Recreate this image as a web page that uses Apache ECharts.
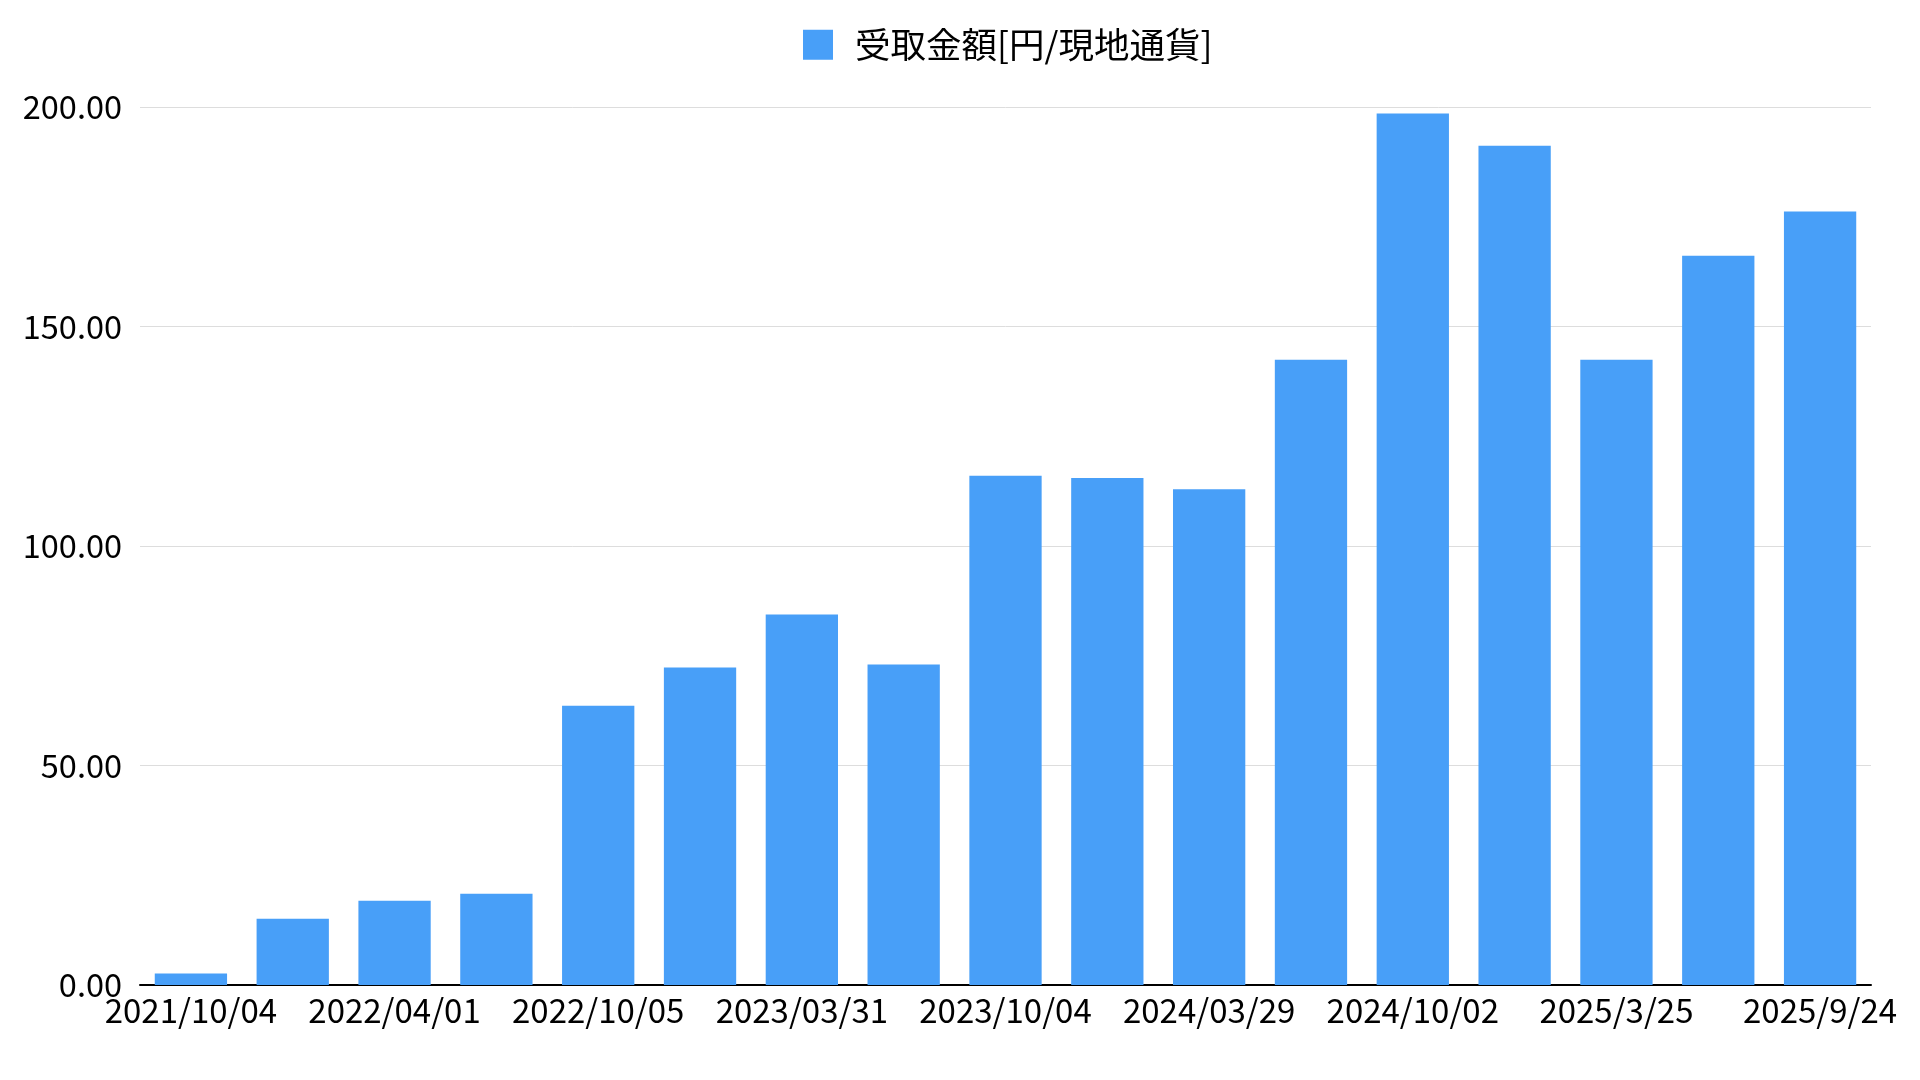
<!DOCTYPE html>
<html>
<head>
<meta charset="utf-8">
<script src="https://cdn.jsdelivr.net/npm/echarts@6/dist/echarts.min.js"></script>
<style>
html,body{margin:0;padding:0;background:#fff;}
#chart{width:1920px;height:1080px;}
</style>
</head>
<body>
<div id="chart"></div>
<script>
const seriesName = '受取金額[円/現地通貨]';
const categories = [
  '2021/10/04','2022/01/05','2022/04/01','2022/07/01','2022/10/05','2023/01/05',
  '2023/03/31','2023/07/03','2023/10/04','2024/01/05','2024/03/29','2024/07/02',
  '2024/10/02','2024/12/27','2025/3/25','2025/6/25','2025/9/24'
];
const amounts = [2.6, 15.1, 19.2, 20.8, 63.6, 72.3, 84.4, 73.0, 116.0, 115.5, 112.9, 142.4, 198.5, 191.2, 142.4, 166.1, 176.2];
const yTicks = { min: 0, max: 200, interval: 50 };

const FONT = '"Noto Sans CJK JP", "Noto Sans", sans-serif';
const chart = echarts.init(document.getElementById('chart'));
chart.setOption({
  animation: false,
  backgroundColor: '#ffffff',
  textStyle: { fontFamily: FONT },
  legend: {
    data: [seriesName],
    left: 798,
    top: 22,
    itemWidth: 30,
    itemHeight: 30,
    icon: 'rect',
    textStyle: { fontSize: 35.5, color: '#000', fontFamily: FONT, padding: [0, 0, 0, 17] }
  },
  grid: { left: 140, right: 49, top: 107, bottom: 95, containLabel: false },
  xAxis: {
    type: 'category',
    data: categories,
    axisLine: { lineStyle: { color: '#000', width: 2 } },
    axisTick: { show: false },
    axisLabel: { interval: 1, color: '#000', fontSize: 33, fontFamily: FONT, margin: 9 }
  },
  yAxis: {
    type: 'value',
    min: yTicks.min,
    max: yTicks.max,
    interval: yTicks.interval,
    axisLine: { show: false },
    axisTick: { show: false },
    splitLine: { lineStyle: { color: '#dddddd', width: 1 } },
    axisLabel: { color: '#000', fontSize: 32.5, fontFamily: FONT, margin: 18,
      formatter: v => v.toFixed(2) }
  },
  series: [{
    name: seriesName,
    type: 'bar',
    data: amounts,
    barCategoryGap: '29%',
    itemStyle: { color: '#489FF8' }
  }]
});
</script>
</body>
</html>
